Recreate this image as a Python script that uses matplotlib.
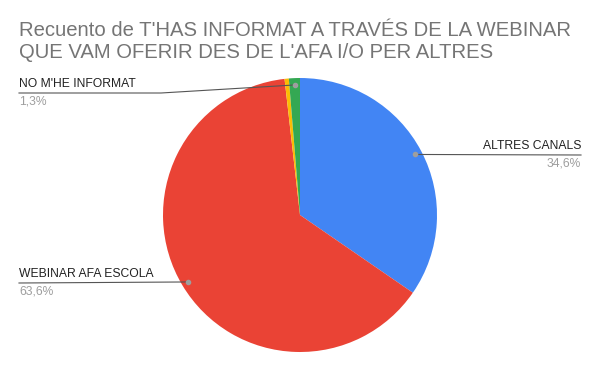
import numpy as np
import matplotlib
matplotlib.use("Agg")
import matplotlib.pyplot as plt

labels = ["ALTRES CANALS", "WEBINAR AFA ESCOLA", "", "NO M'HE INFORMAT"]
values = [34.6, 63.6, 0.5, 1.3]
colors = ["#4285f4", "#ea4335", "#fbbc04", "#34a853"]
pct_text = ["34,6%", "63,6%", "", "1,3%"]

W, H = 600, 371
fig = plt.figure(figsize=(W / 100, H / 100), dpi=100)
plt.rcParams['font.family'] = ['Liberation Sans', 'DejaVu Sans']

def fx(px):
    return px / W

def fy(py):
    return 1 - py / H

# pie centre (300, 215), radius 137 px
ax = fig.add_axes([fx(163), fy(352), 274 / W, 274 / H])
wedges, _ = ax.pie(values, colors=colors, startangle=90, counterclock=False,
                   wedgeprops=dict(linewidth=0))
ax.set_xlim(-1, 1)
ax.set_ylim(-1, 1)
ax.set_aspect("equal")
ax.axis("off")

fig.text(fx(19), fy(31), "Recuento de T'HAS INFORMAT A TRAVÉS DE LA WEBINAR",
         fontsize=14.6, color="#757575", va="center", ha="left")
fig.text(fx(19), fy(53), "QUE VAM OFERIR DES DE L'AFA I/O PER ALTRES",
         fontsize=14.6, color="#757575", va="center", ha="left")

def dot_pos(w):
    a = np.deg2rad((w.theta1 + w.theta2) / 2)
    return 0.95 * np.cos(a), 0.95 * np.sin(a)

def to_fig(x, y):
    disp = ax.transData.transform((x, y))
    return fig.transFigure.inverted().transform(disp)

# label layout: (text x px, underline y px, align, elbow x px)
layout = {
    0: (581, 155, "right", None),
    1: (19, 283, "left", None),
    3: (19, 93, "left", 161),
}

for i, (tx, ly, ha, elbow) in layout.items():
    dx, dy = dot_pos(wedges[i])
    px, py = to_fig(dx, dy)
    if elbow is None:
        xs = [px, fx(tx)]
        ys = [py, fy(ly)]
    else:
        xs = [px, fx(elbow), fx(tx)]
        ys = [py, fy(ly), fy(ly)]
    fig.add_artist(plt.Line2D(xs, ys, color="#555555", linewidth=0.8,
                              transform=fig.transFigure))
    fig.add_artist(plt.Line2D([px], [py], marker="o", markersize=3,
                              color="#9e9e9e", linestyle="none",
                              transform=fig.transFigure))
    fig.text(fx(tx), fy(ly - 3), labels[i], fontsize=8.7, color="#222222",
             ha=ha, va="bottom")
    fig.text(fx(tx), fy(ly + 3), pct_text[i], fontsize=8.7, color="#9e9e9e",
             ha=ha, va="top")

fig.savefig("out.png", dpi=100, facecolor="white")
